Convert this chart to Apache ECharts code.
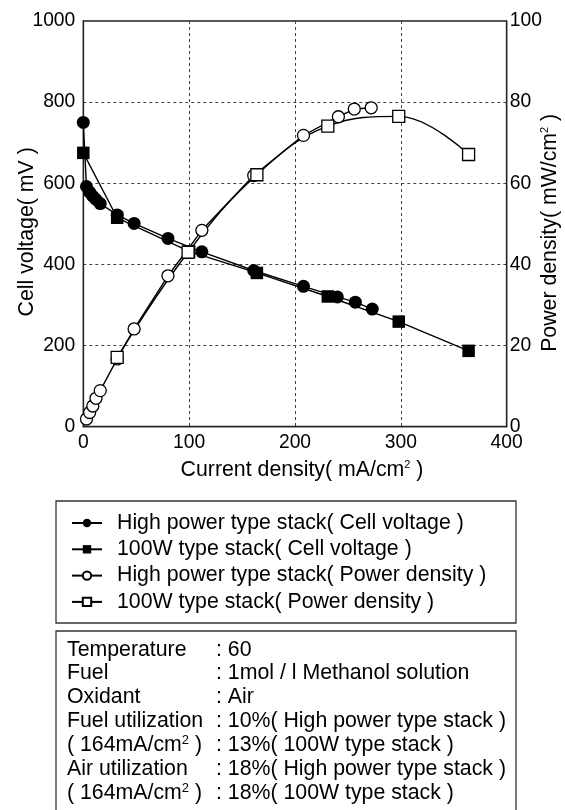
<!DOCTYPE html>
<html><head><meta charset="utf-8">
<script src="https://cdn.jsdelivr.net/npm/echarts@6/dist/echarts.min.js"></script>
<style>html,body{margin:0;padding:0;background:#fff}#c{width:565px;height:810px}</style>
</head><body><div id="c"></div>
<script>
// High power type stack - cell voltage
const xHPV = [0, 3, 6, 9, 12, 16, 32, 48, 80, 112, 161, 208, 240, 257, 273];
const yHPV = [750, 592, 578, 568, 560, 550, 522, 501, 464, 431, 385, 346, 320, 307, 290];
// 100W type stack - cell voltage
const x100V = [0, 32, 100, 164, 231, 298, 364];
const y100V = [675, 515, 432, 379, 321, 259, 187];
// High power type stack - power density
const xHPP = [3, 6, 9, 12, 16, 32, 48, 80, 112, 161, 208, 241, 256, 272];
const yHPP = [1.9, 3.5, 5.1, 7.0, 8.9, 16.7, 24.1, 37.2, 48.4, 61.9, 71.8, 76.4, 78.3, 78.6];
// 100W type stack - power density
const x100P = [32, 99, 164, 231, 298, 364];
const y100P = [17.1, 43.0, 62.1, 74.1, 76.5, 67.1];

const seriesNames = [
  'High power type stack( Cell voltage )',
  '100W type stack( Cell voltage )',
  'High power type stack( Power density )',
  '100W type stack( Power density )'
];
const xTicks = [0, 100, 200, 300, 400];
const leftTicks = [0, 200, 400, 600, 800, 1000];
const rightTicks = [0, 20, 40, 60, 80, 100];
const xAxisName = 'Current density( mA/cm{s|2} )';
const leftAxisName = 'Cell voltage( mV )';
const rightAxisName = 'Power density( mW/cm{s|2} )';
const infoLabels = ['Temperature', 'Fuel', 'Oxidant', 'Fuel utilization', '( 164mA/cm{s|2} )', 'Air utilization', '( 164mA/cm{s|2} )'];
const infoValues = [': 60', ': 1mol / l Methanol solution', ': Air', ': 10%( High power type stack )', ': 13%( 100W type stack )', ': 18%( High power type stack )', ': 18%( 100W type stack )'];

const FONT = "'Liberation Sans', Arial, sans-serif";
const FS = 21.3;   // names, legend, info
const TFS = 19.3;  // tick labels
const zip = (xs, ys) => xs.map((x, i) => [x, ys[i]]);

const chart = echarts.init(document.getElementById('c'), null, {renderer: 'canvas'});

const grid = {left: 83.3, right: 58.3, top: 21, bottom: 383.3, containLabel: false, outerBoundsMode: 'none', show: true, borderColor: '#222', borderWidth: 1.3, backgroundColor: 'transparent'};
const dashed = {show: true, showMinLine: false, showMaxLine: false, lineStyle: {color: '#444', type: [3, 3], width: 1}};
const supRich = {s: {fontSize: 11, fontFamily: FONT, color: '#000', padding: [0, 0, 10, 0]}};
const plain = v => String(v);

const lineSeries = (name, data, yIdx, symbol, filled, size, extra) => Object.assign({
  name, type: 'line', data, yAxisIndex: yIdx, symbol, symbolSize: size,
  showAllSymbol: true,
  lineStyle: {color: '#000', width: 1.4},
  itemStyle: {color: filled ? '#000' : '#fff', borderColor: '#000', borderWidth: filled ? 0 : 1.3},
  emphasis: {disabled: true},
  animation: false
}, extra || {});

const graphics = [
  {type: 'rect', shape: {x: 56, y: 501, width: 460, height: 122}, style: {fill: 'none', stroke: '#333', lineWidth: 1.3}},
  {type: 'rect', shape: {x: 56, y: 631, width: 460, height: 200}, style: {fill: 'none', stroke: '#333', lineWidth: 1.3}}
];
const infoY = [650, 673.5, 697, 721, 745, 769.5, 793];
infoLabels.forEach((t, i) => {
  graphics.push({type: 'text', x: 67, y: infoY[i], style: {text: t, fontSize: FS, fontFamily: FONT, fill: '#000', verticalAlign: 'middle', rich: {s: {fontSize: 13, fontFamily: FONT, fill: '#000', padding: [0, 0, 9, 0]}}}});
  graphics.push({type: 'text', x: 216, y: infoY[i], style: {text: infoValues[i], fontSize: FS, fontFamily: FONT, fill: '#000', verticalAlign: 'middle'}});
});

chart.setOption({
  animation: false,
  textStyle: {fontFamily: FONT},
  grid,
  legend: {
    orient: 'vertical', left: 71, top: 512, padding: 0,
    itemWidth: 30, itemHeight: 10.5, itemGap: 4.3,
    data: seriesNames,
    textStyle: {fontSize: FS, color: '#000', fontFamily: FONT, lineHeight: 22, padding: [0, 0, 0, 10]},
    selectedMode: false
  },
  xAxis: {
    type: 'value', min: xTicks[0], max: xTicks[xTicks.length - 1], interval: 100,
    name: xAxisName, nameLocation: 'middle', nameGap: 33, nameMoveOverlap: false,
    nameTextStyle: {fontSize: FS, color: '#000', fontFamily: FONT, padding: [0, 0, 0, 14], rich: supRich},
    axisLine: {lineStyle: {color: '#222', width: 1.3}},
    axisTick: {show: false},
    axisLabel: {fontSize: TFS, color: '#000', margin: 6, fontFamily: FONT, formatter: plain},
    splitLine: dashed
  },
  yAxis: [
    {
      type: 'value', min: leftTicks[0], max: leftTicks[leftTicks.length - 1], interval: 200, position: 'left',
      name: leftAxisName, nameLocation: 'middle', nameGap: 46, nameRotate: 90, nameMoveOverlap: false,
      nameTextStyle: {fontSize: FS, color: '#000', fontFamily: FONT, padding: [0, 16, 0, 0]},
      axisLine: {show: true, lineStyle: {color: '#222', width: 1.3}},
      axisTick: {show: false},
      axisLabel: {fontSize: TFS, color: '#000', margin: 8, fontFamily: FONT, formatter: plain},
      splitLine: dashed
    },
    {
      type: 'value', min: rightTicks[0], max: rightTicks[rightTicks.length - 1], interval: 20, position: 'right',
      name: rightAxisName, nameLocation: 'middle', nameGap: 33, nameRotate: 90, nameMoveOverlap: false,
      nameTextStyle: {fontSize: FS, color: '#000', fontFamily: FONT, padding: [0, 18, 0, 0], rich: supRich},
      axisLine: {show: true, lineStyle: {color: '#222', width: 1.3}},
      axisTick: {show: false},
      axisLabel: {fontSize: TFS, color: '#000', margin: 3, fontFamily: FONT, formatter: plain},
      splitLine: {show: false}
    }
  ],
  series: [
    lineSeries(seriesNames[0], zip(xHPV, yHPV), 0, 'circle', true, 13),
    lineSeries(seriesNames[1], zip(x100V, y100V), 0, 'rect', true, 12.5),
    lineSeries(seriesNames[2], zip(xHPP, yHPP), 1, 'circle', false, 12),
    lineSeries(seriesNames[3], zip(x100P, y100P), 1, 'rect', false, 12, {smooth: 0.4})
  ],
  graphic: graphics
});
</script></body></html>
